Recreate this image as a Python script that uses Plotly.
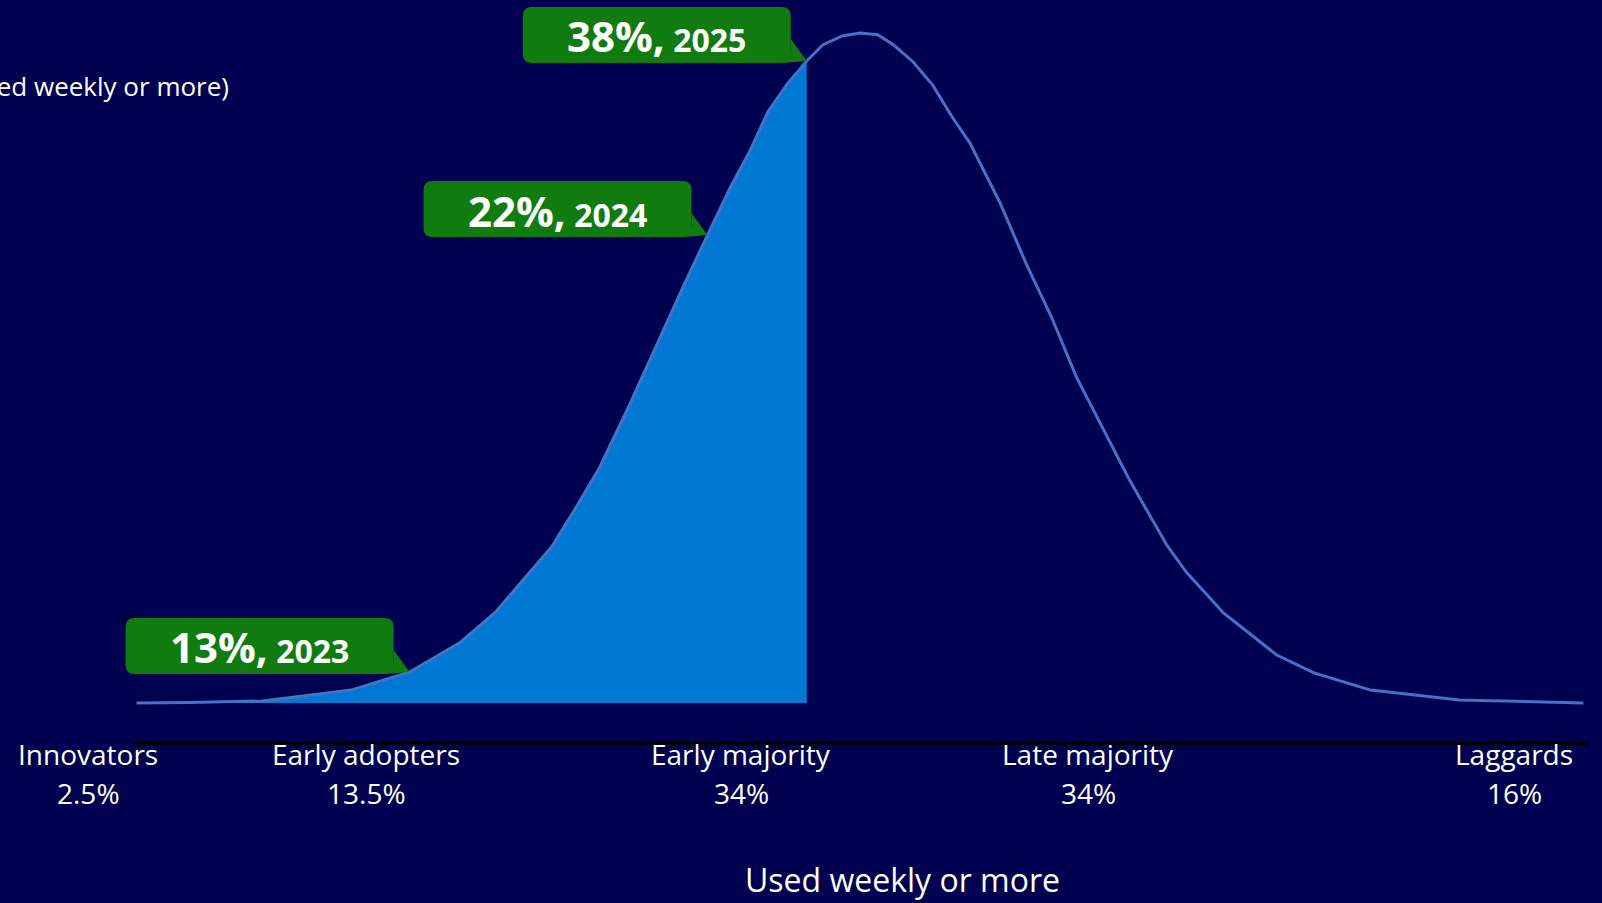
import plotly.graph_objects as go

# ---------------- data ----------------
# adoption curve (x = standard deviations from the mean, y = density)
curve_z = [-4.08, -3.78, -3.37, -2.87, -2.54, -2.26, -2.06, -1.90, -1.74, -1.61,
           -1.47, -1.30, -1.11, -0.99, -0.86, -0.73, -0.62, -0.52, -0.41, -0.30,
           -0.21, -0.10, 0.00, 0.10, 0.19, 0.30, 0.41, 0.52, 0.62, 0.79,
           0.94, 1.08, 1.22, 1.37, 1.52, 1.73, 1.84, 2.05, 2.26, 2.35,
           2.56, 2.88, 3.38, 4.08]
curve_y = [0.0, 0.0003, 0.0012, 0.0077, 0.0185, 0.0357, 0.0536, 0.0733, 0.0929, 0.115,
           0.140, 0.1775, 0.222, 0.2496, 0.2787, 0.3073, 0.329, 0.352, 0.3687, 0.3824,
           0.3919, 0.3973, 0.399, 0.398, 0.3919, 0.3818, 0.368, 0.349, 0.3335, 0.2978,
           0.2609, 0.2299, 0.1942, 0.1638, 0.1328, 0.0941, 0.078, 0.0536, 0.0357, 0.0286,
           0.0179, 0.0077, 0.0018, 0.0]

# adoption reached so far (filled area ends here)
adoption_z = -0.30

# callouts
callout_pct = ["13%", "22%", "38%"]
callout_year = ["2023", "2024", "2025"]
callout_z = [-2.54, -0.86, -0.30]

# adopter categories
categories = ["Innovators", "Early adopters", "Early majority", "Late majority", "Laggards"]
category_share = ["2.5%", "13.5%", "34%", "34%", "16%"]

title_text = "Share of respondents (Used weekly or more)"
x_title = "Used weekly or more"

# ---------------- styling / layout constants ----------------
W, H = 1602, 903
ML, MR, MT, MB = 133, 15, 0, 161
BASE_PX = 703            # pixel row of y = 0
PX_PER_Y = 1679.0        # pixels per y unit
X_RANGE = [-4.1, 4.1]
Y_RANGE = [-(H - MB - BASE_PX) / PX_PER_Y, (BASE_PX - MT) / PX_PER_Y]
BG = "#000050"
LINE_C = "#4472C4"
FILL_C = "#0078D4"
GREEN = "#107C10"
FONT = "Open Sans"

PW = W - ML - MR
PH = H - MT - MB


def x2px(x):
    return ML + (x - X_RANGE[0]) / (X_RANGE[1] - X_RANGE[0]) * PW


def y2px(y):
    return MT + (Y_RANGE[1] - y) / (Y_RANGE[1] - Y_RANGE[0]) * PH


def px2paper_x(px):
    return (px - ML) / PW


def px2paper_y(py):
    return (H - MB - py) / PH


fig = go.Figure()

fill_x = [z for z in curve_z if z <= adoption_z + 1e-9]
fill_y = curve_y[:len(fill_x)]
fig.add_trace(go.Scatter(x=fill_x, y=fill_y, mode="lines", fill="tozeroy",
                         fillcolor=FILL_C, line=dict(width=0), hoverinfo="skip",
                         showlegend=False))
fig.add_trace(go.Scatter(x=curve_z, y=curve_y, mode="lines",
                         line=dict(color=LINE_C, width=3), showlegend=False))

# callout shapes + text (paper coordinates so they are not clipped)
BOX_W, BOX_H, BOX_R = 268, 56, 9
OFF_X, OFF_Y = 16, 2   # box bottom-right relative to the tip, px
shapes = []
annotations = []
for pct, yr, z in zip(callout_pct, callout_year, callout_z):
    ty = curve_y[curve_z.index(z)]
    tx_px, ty_px = x2px(z), y2px(ty)
    r_px = tx_px - OFF_X
    l_px = r_px - BOX_W
    b_px = ty_px + OFF_Y
    t_px = b_px - BOX_H
    X = px2paper_x
    Y = px2paper_y
    R = BOX_R
    path = (f"M {X(l_px+R)},{Y(t_px)} L {X(r_px-R)},{Y(t_px)} Q {X(r_px)},{Y(t_px)} {X(r_px)},{Y(t_px+R)} "
            f"L {X(r_px)},{Y(b_px-R)} Q {X(r_px)},{Y(b_px)} {X(r_px-R)},{Y(b_px)} "
            f"L {X(l_px+R)},{Y(b_px)} Q {X(l_px)},{Y(b_px)} {X(l_px)},{Y(b_px-R)} "
            f"L {X(l_px)},{Y(t_px+R)} Q {X(l_px)},{Y(t_px)} {X(l_px+R)},{Y(t_px)} Z")
    shapes.append(dict(type="path", path=path, xref="paper", yref="paper",
                       fillcolor=GREEN, line=dict(width=0), layer="above"))
    tri = (f"M {X(r_px)},{Y(b_px-24)} L {X(tx_px)},{Y(ty_px)} "
           f"L {X(r_px-8)},{Y(b_px)} L {X(r_px)},{Y(b_px-10)} Z")
    shapes.append(dict(type="path", path=tri, xref="paper", yref="paper",
                       fillcolor=GREEN, line=dict(width=0), layer="above"))
    annotations.append(dict(
        x=X((l_px + r_px) / 2), y=Y((t_px + b_px) / 2 + 1), xref="paper", yref="paper",
        text=f"<b><span style='font-size:42px'>{pct},</span> "
             f"<span style='font-size:32px'>{yr}</span></b>",
        showarrow=False, xanchor="center", yanchor="middle",
        font=dict(family=FONT, color="white", size=32)))

# category labels
cat_px = [88, 366, 741, 1088, 1514]
for name, share, px in zip(categories, category_share, cat_px):
    annotations.append(dict(x=px2paper_x(px), y=px2paper_y(754), xref="paper", yref="paper",
                            text=name, showarrow=False, xanchor="center", yanchor="middle",
                            font=dict(family=FONT, color="white", size=28)))
    annotations.append(dict(x=px2paper_x(px), y=px2paper_y(793), xref="paper", yref="paper",
                            text=share, showarrow=False, xanchor="center", yanchor="middle",
                            font=dict(family=FONT, color="white", size=28)))

# partially visible title (cut at the left edge, as in the source)
annotations.append(dict(x=px2paper_x(231), y=px2paper_y(86), xref="paper", yref="paper",
                        text=title_text, showarrow=False, xanchor="right", yanchor="middle",
                        font=dict(family=FONT, color="white", size=26)))
# x title
annotations.append(dict(x=px2paper_x(902), y=px2paper_y(879), xref="paper", yref="paper",
                        text=x_title, showarrow=False, xanchor="center", yanchor="middle",
                        font=dict(family=FONT, color="white", size=32)))

fig.update_layout(
    width=W, height=H, autosize=False,
    margin=dict(l=ML, r=MR, t=MT, b=MB, pad=0),
    paper_bgcolor=BG, plot_bgcolor=BG,
    xaxis=dict(range=X_RANGE, showgrid=False, zeroline=False, showticklabels=False,
               ticks="", showline=True, linecolor="black", linewidth=3, fixedrange=True),
    yaxis=dict(range=Y_RANGE, showgrid=False, zeroline=False, showticklabels=False,
               ticks="", showline=False, fixedrange=True),
    shapes=shapes, annotations=annotations, showlegend=False,
)

fig.write_html("out.html",
               config={"displayModeBar": False},
               post_script="document.body.style.margin='0';"
                           "document.body.style.overflow='hidden';"
                           "document.body.style.background='" + BG + "';")
